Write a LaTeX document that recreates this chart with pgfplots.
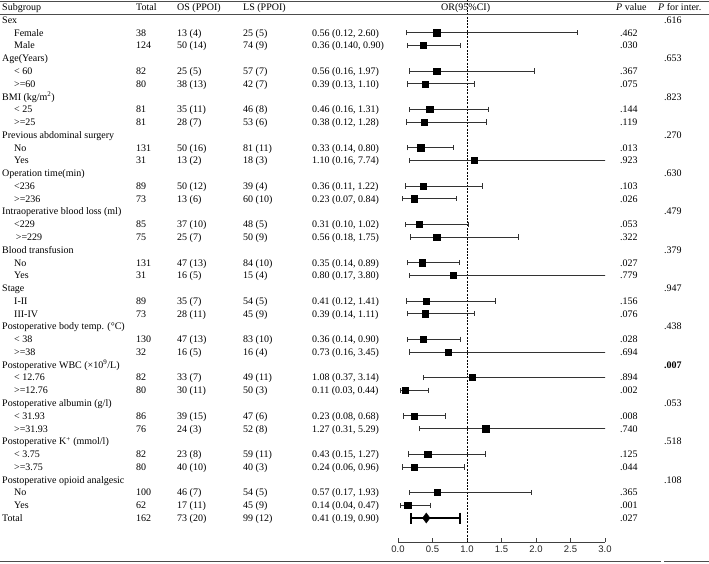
\documentclass[border=0pt]{standalone}
\usepackage{fontspec}
\setmainfont{Liberation Serif}
\setsansfont{Liberation Sans}
\usepackage{pgfplots}
\usepackage{pgfplotstable}
\pgfplotsset{compat=1.18}

\pgfplotstableread{
row or lo hi
2 0.56 0.12 2.60
3 0.36 0.14 0.90
5 0.56 0.16 1.97
6 0.39 0.13 1.10
8 0.46 0.16 1.31
9 0.38 0.12 1.28
11 0.33 0.14 0.80
12 1.10 0.16 7.74
14 0.36 0.11 1.22
15 0.23 0.07 0.84
17 0.31 0.10 1.02
18 0.56 0.18 1.75
20 0.35 0.14 0.89
21 0.80 0.17 3.80
23 0.41 0.12 1.41
24 0.39 0.14 1.11
26 0.36 0.14 0.90
27 0.73 0.16 3.45
29 1.08 0.37 3.14
30 0.11 0.03 0.44
32 0.23 0.08 0.68
33 1.27 0.31 5.29
35 0.43 0.15 1.27
36 0.24 0.06 0.96
38 0.57 0.17 1.93
39 0.14 0.04 0.47
}\ordata

\pgfplotstableread{
row or lo hi
40 0.41 0.19 0.90
}\totdata

\newcommand\T[3]{\node[anchor=base west,inner sep=0pt] at (#2bp,{-(23.4+12.77*(#1-1))*1bp}) {#3};}
% group header row: label + P for interaction
\newcommand\G[3]{\T{#1}{2}{#2}\T{#1}{664}{#3}}
% data row: label, total, OS, LS, OR, P
\newcommand\D[7]{\T{#1}{14}{#2}\T{#1}{136}{#3}\T{#1}{177}{#4}\T{#1}{243}{#5}\T{#1}{312}{#6}\T{#1}{620}{#7}}

\begin{document}
\fontsize{10bp}{12bp}\selectfont
\begin{tikzpicture}
\useasboundingbox (0,0) rectangle (709bp,-564bp);
\begin{axis}[
  at={(398bp,0bp)}, anchor=north west,
  scale only axis, width=207bp, height=542bp,
  xmin=0, xmax=3, ymin=-0.566, ymax=41.88, y dir=reverse,
  axis x line*=bottom, axis y line=none,
  xtick={0,0.5,1,1.5,2,2.5,3},
  xticklabels={0.0,0.5,1.0,1.5,2.0,2.5,3.0},
  ticklabel style={font=\sffamily\fontsize{9.5bp}{11bp}\selectfont, text=black!85},
  tick align=inside, major tick length=4bp,
  x axis line style={line width=0.9bp, black!75},
  every tick/.style={line width=0.9bp, black!75},
  /pgf/number format/assume math mode=true,
]
\addplot[black, line width=0.8bp, dash pattern=on 2bp off 1.3bp] coordinates {(1,-0.566) (1,41.88)};
\addplot[only marks, mark=square*, mark size=3.1bp, black,
  error bars/.cd, x dir=both, x explicit, error mark=|,
  error bar style={line width=0.75bp, black!80},
  error mark options={line width=0.75bp, mark size=2.7bp, black!80}]
  table[x=or, y=row, x error plus expr=\thisrow{hi}-\thisrow{or}, x error minus expr=\thisrow{or}-\thisrow{lo}] {\ordata};
\addplot[only marks, mark=diamond*, mark size=5bp, black,
  error bars/.cd, x dir=both, x explicit, error mark=|,
  error bar style={line width=1.6bp, black},
  error mark options={line width=1.6bp, mark size=5.5bp, black}]
  table[x=or, y=row, x error plus expr=\thisrow{hi}-\thisrow{or}, x error minus expr=\thisrow{or}-\thisrow{lo}] {\totdata};
\end{axis}

% rules
\draw[line width=0.9bp, black!70] (0,-1bp) -- (709bp,-1bp);
\draw[line width=0.9bp, black!70] (0,-14bp) -- (709bp,-14bp);
\draw[line width=0.9bp, black!70] (0,-561bp) -- (661bp,-561bp);
\draw[line width=0.9bp, black!70] (664bp,-561bp) -- (709bp,-561bp);

% header
\node[anchor=base west,inner sep=0pt] at (2bp,-10.4bp) {Subgroup};
\node[anchor=base west,inner sep=0pt] at (136bp,-10.4bp) {Total};
\node[anchor=base west,inner sep=0pt] at (177bp,-10.4bp) {OS (PPOI)};
\node[anchor=base west,inner sep=0pt] at (243bp,-10.4bp) {LS (PPOI)};
\node[anchor=base west,inner sep=0pt] at (441bp,-10.4bp) {OR(95\%CI)};
\node[anchor=base west,inner sep=0pt] at (616bp,-10.4bp) {\textit{P} value};
\node[anchor=base west,inner sep=0pt] at (658bp,-10.4bp) {\textit{P} for inter.};

\G{1}{Sex}{.616}
\D{2}{Female}{38}{13 (4)}{25 (5)}{0.56 (0.12, 2.60)}{.462}
\D{3}{Male}{124}{50 (14)}{74 (9)}{0.36 (0.140, 0.90)}{.030}
\G{4}{Age(Years)}{.653}
\D{5}{< 60}{82}{25 (5)}{57 (7)}{0.56 (0.16, 1.97)}{.367}
\D{6}{>=60}{80}{38 (13)}{42 (7)}{0.39 (0.13, 1.10)}{.075}
\G{7}{BMI (kg/m\textsuperscript{2})}{.823}
\D{8}{< 25}{81}{35 (11)}{46 (8)}{0.46 (0.16, 1.31)}{.144}
\D{9}{>=25}{81}{28 (7)}{53 (6)}{0.38 (0.12, 1.28)}{.119}
\G{10}{Previous abdominal surgery}{.270}
\D{11}{No}{131}{50 (16)}{81 (11)}{0.33 (0.14, 0.80)}{.013}
\D{12}{Yes}{31}{13 (2)}{18 (3)}{1.10 (0.16, 7.74)}{.923}
\G{13}{Operation time(min)}{.630}
\D{14}{<236}{89}{50 (12)}{39 (4)}{0.36 (0.11, 1.22)}{.103}
\D{15}{>=236}{73}{13 (6)}{60 (10)}{0.23 (0.07, 0.84)}{.026}
\G{16}{Intraoperative blood loss (ml)}{.479}
\D{17}{<229}{85}{37 (10)}{48 (5)}{0.31 (0.10, 1.02)}{.053}
\D{18}{\,>=229}{75}{25 (7)}{50 (9)}{0.56 (0.18, 1.75)}{.322}
\G{19}{Blood transfusion}{.379}
\D{20}{No}{131}{47 (13)}{84 (10)}{0.35 (0.14, 0.89)}{.027}
\D{21}{Yes}{31}{16 (5)}{15 (4)}{0.80 (0.17, 3.80)}{.779}
\G{22}{Stage}{.947}
\D{23}{I-II}{89}{35 (7)}{54 (5)}{0.41 (0.12, 1.41)}{.156}
\D{24}{III-IV}{73}{28 (11)}{45 (9)}{0.39 (0.14, 1.11)}{.076}
\G{25}{Postoperative body temp. (°C)}{.438}
\D{26}{< 38}{130}{47 (13)}{83 (10)}{0.36 (0.14, 0.90)}{.028}
\D{27}{>=38}{32}{16 (5)}{16 (4)}{0.73 (0.16, 3.45)}{.694}
\G{28}{Postoperative WBC (×10\textsuperscript{9}/L)}{\textbf{.007}}
\D{29}{< 12.76}{82}{33 (7)}{49 (11)}{1.08 (0.37, 3.14)}{.894}
\D{30}{>=12.76}{80}{30 (11)}{50 (3)}{0.11 (0.03, 0.44)}{.002}
\G{31}{Postoperative albumin (g/l)}{.053}
\D{32}{< 31.93}{86}{39 (15)}{47 (6)}{0.23 (0.08, 0.68)}{.008}
\D{33}{>=31.93}{76}{24 (3)}{52 (8)}{1.27 (0.31, 5.29)}{.740}
\G{34}{Postoperative K\textsuperscript{+} (mmol/l)}{.518}
\D{35}{< 3.75}{82}{23 (8)}{59 (11)}{0.43 (0.15, 1.27)}{.125}
\D{36}{>=3.75}{80}{40 (10)}{40 (3)}{0.24 (0.06, 0.96)}{.044}
\G{37}{Postoperative opioid analgesic}{.108}
\D{38}{No}{100}{46 (7)}{54 (5)}{0.57 (0.17, 1.93)}{.365}
\D{39}{Yes}{62}{17 (11)}{45 (9)}{0.14 (0.04, 0.47)}{.001}
\T{40}{2}{Total}\T{40}{136}{162}\T{40}{177}{73 (20)}\T{40}{243}{99 (12)}\T{40}{312}{0.41 (0.19, 0.90)}\T{40}{620}{.027}
\end{tikzpicture}
\end{document}
